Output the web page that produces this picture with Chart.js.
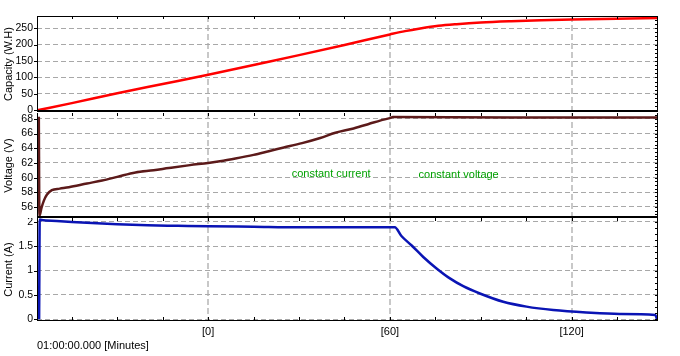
<!DOCTYPE html>
<html>
<head>
<meta charset="utf-8">
<script src="https://cdn.jsdelivr.net/npm/chart.js@4.4.1/dist/chart.umd.min.js"></script>
<style>
  html,body{margin:0;padding:0;background:#fff;}
  #wrap{position:relative;width:680px;height:356px;overflow:hidden;}
  canvas{position:absolute;left:0;}
</style>
</head>
<body>
<div id="wrap">
  <canvas id="c1" width="680" height="113" style="top:0;width:680px;height:113px"></canvas>
  <canvas id="c2" width="680" height="105" style="top:113px;width:680px;height:105px"></canvas>
  <canvas id="c3" width="680" height="138" style="top:218px;width:680px;height:138px"></canvas>
</div>
<script>
// ---------------- data (minutes relative to 01:00:00.000) ----------------
const capT  = [-56.5, -45, -30, -15, 0, 15, 30, 45, 60, 65, 70, 76, 82, 90, 100, 110, 120, 135, 148.5];
const capV  = [0, 22, 52, 80, 108, 138, 168, 199, 231, 241, 249, 257, 262, 267, 271, 274, 276, 279, 281];

const voltT = [-55.9, -55.7, -55.0, -54.2, -53.2, -51.6, -49, -46, -40, -35, -30, -24, -18, -13, -6, 0, 5, 9, 15, 20, 25, 31, 37, 42, 48, 53, 57, 60, 61, 100, 148.5];
const voltV = [68.3, 54.8, 55.9, 56.9, 57.7, 58.3, 58.5, 58.7, 59.2, 59.6, 60.1, 60.7, 61.0, 61.3, 61.7, 62.0, 62.3, 62.6, 63.1, 63.6, 64.1, 64.7, 65.4, 66.1, 66.7, 67.3, 67.8, 68.1, 68.25, 68.2, 68.2];

const currT = [-55.8, -55.6, -55, -50, -45, -40, -30, -20, -10, 0, 15, 30, 45, 60, 61.6, 63.8, 67.1, 71, 75.3, 79.8, 84.2, 89.7, 97.4, 105.1, 113.9, 124.8, 135.8, 147.6, 148.2];
const currV = [0, 2.05, 2.04, 2.02, 2.0, 1.98, 1.95, 1.93, 1.92, 1.91, 1.90, 1.89, 1.89, 1.89, 1.89, 1.71, 1.52, 1.28, 1.05, 0.84, 0.68, 0.53, 0.36, 0.26, 0.19, 0.14, 0.11, 0.09, 0.0];

// tick labels
const xMajorTicks = [0, 60, 120];
const xMinorTicks = [-45, -30, -15, 0, 15, 30, 45, 60, 75, 90, 105, 120, 135];
const capTicks  = [0, 50, 100, 150, 200, 250];
const voltTicks = [56, 58, 60, 62, 64, 66, 68];
const currTicks = [0, 0.5, 1, 1.5, 2];
const xTitle = '01:00:00.000 [Minutes]';
const notes = [
  {text: 'constant current', x: 40.6, y: 60.5},
  {text: 'constant voltage', x: 82.7, y: 60.35}
];

// ---------------- styling ----------------
const FONT = '"Liberation Sans", Arial, sans-serif';
Chart.defaults.font.family = FONT;
Chart.defaults.font.size = 10;
Chart.defaults.color = '#000';
const X_MIN = -56.5, X_MAX = 148.5;

function pts(xs, ys){ return xs.map((x,i)=>({x, y: ys[i]})); }

function frame(opts){
  return {
    id: 'frame',
    afterDraw(chart){
      const {ctx, chartArea:{left,right,top,bottom}} = chart;
      const xs = chart.scales.x, ys = chart.scales.y;
      ctx.save();
      ctx.strokeStyle = '#000';
      ctx.lineWidth = 1;
      ctx.beginPath();
      for (const m of xMinorTicks){
        const px = Math.round(xs.getPixelForValue(m)) + 0.5;
        ctx.moveTo(px, top); ctx.lineTo(px, top + 3);
        if (opts.bottomTicks){ ctx.moveTo(px, bottom); ctx.lineTo(px, bottom - 4); }
      }
      for (let k = Math.ceil(ys.min/opts.minorY); k*opts.minorY <= ys.max; k++){
        const py = Math.round(ys.getPixelForValue(k*opts.minorY)) + 0.5;
        ctx.moveTo(right, py); ctx.lineTo(right - 3, py);
      }
      for (const v of opts.ticks){
        const py = Math.round(ys.getPixelForValue(v)) + 0.5;
        ctx.moveTo(left - 3, py); ctx.lineTo(left, py);
      }
      ctx.stroke();
      ctx.fillStyle = '#000';
      ctx.fillRect(left, top, 1, bottom - top);
      ctx.fillRect(right - 1, top, 1, bottom - top);
      if (opts.topLine) ctx.fillRect(left, top, right - left, 1);
      if (opts.thickBottom) ctx.fillRect(left, bottom - 2, right - left, 2);
      else ctx.fillRect(left, bottom - 1, right - left, 1);
      if (opts.notes){
        ctx.fillStyle = '#00a000';
        ctx.font = '11px ' + FONT;
        ctx.textAlign = 'center';
        ctx.textBaseline = 'middle';
        for (const n of opts.notes){
          ctx.fillText(n.text, xs.getPixelForValue(n.x), ys.getPixelForValue(n.y));
        }
      }
      ctx.restore();
    }
  };
}

function makeChart(id, cfg){
  const showX = !!cfg.showX;
  return new Chart(document.getElementById(id), {
    type: 'line',
    data: { datasets: [{
      data: cfg.data,
      borderColor: cfg.color,
      borderWidth: 2.5,
      pointRadius: 0,
      cubicInterpolationMode: 'monotone',
      fill: false
    }]},
    options: {
      responsive: false,
      animation: false,
      events: [],
      layout: { padding: {left: 0, right: 22, top: cfg.padTop, bottom: cfg.padBottom} },
      plugins: { legend: {display: false}, tooltip: {enabled: false} },
      scales: {
        x: {
          type: 'linear',
          min: X_MIN, max: X_MAX,
          afterBuildTicks: s => { s.ticks = xMajorTicks.map(v => ({value: v})); },
          afterFit: s => { s.height = showX ? 35 : 0; s.paddingLeft = 0; s.paddingRight = 0; },
          grid: { color: '#c8c8c8', lineWidth: 2, drawTicks: false },
          border: { display: false, dash: [6, 3] },
          ticks: {
            display: showX,
            autoSkip: false,
            padding: 4,
            maxRotation: 0,
            font: {size: 11},
            callback: v => '[' + v + ']'
          },
          title: {
            display: showX,
            text: xTitle,
            align: 'start',
            font: {size: 11},
            padding: {top: 4, bottom: 3}
          }
        },
        y: {
          min: cfg.min, max: cfg.max,
          afterBuildTicks: s => { s.ticks = cfg.ticks.map(v => ({value: v})); },
          afterFit: s => { s.width = 37; s.paddingTop = 0; s.paddingBottom = 0; },
          grid: { color: '#a8a8a8', lineWidth: 1, drawTicks: false },
          border: { display: false, dash: [5, 3] },
          ticks: { autoSkip: false, padding: 4, font: {size: 10.5}, callback: v => String(v) },
          title: { display: true, text: cfg.title, font: {size: 11}, padding: {top: 2, bottom: 2} }
        }
      }
    },
    plugins: [frame(cfg.frame)]
  });
}

makeChart('c1', {
  data: pts(capT, capV), color: '#ff0000',
  min: -5, max: 287, ticks: capTicks, title: 'Capacity (W.H)',
  padTop: 16, padBottom: 1,
  frame: {minorY: 12.5, ticks: capTicks, topLine: true, thickBottom: true}
});
makeChart('c2', {
  data: pts(voltT, voltV), color: '#5c1a1a',
  min: 54.5, max: 68.8, ticks: voltTicks, title: 'Voltage (V)',
  padTop: 0, padBottom: 0,
  frame: {minorY: 0.5, ticks: voltTicks, thickBottom: true, notes: notes}
});
makeChart('c3', {
  data: pts(currT, currV), color: '#0a14b4',
  min: -0.035, max: 2.08, ticks: currTicks, title: 'Current (A)',
  padTop: 0, padBottom: 0, showX: true,
  frame: {minorY: 0.125, ticks: currTicks, bottomTicks: true}
});
</script>
</body>
</html>
